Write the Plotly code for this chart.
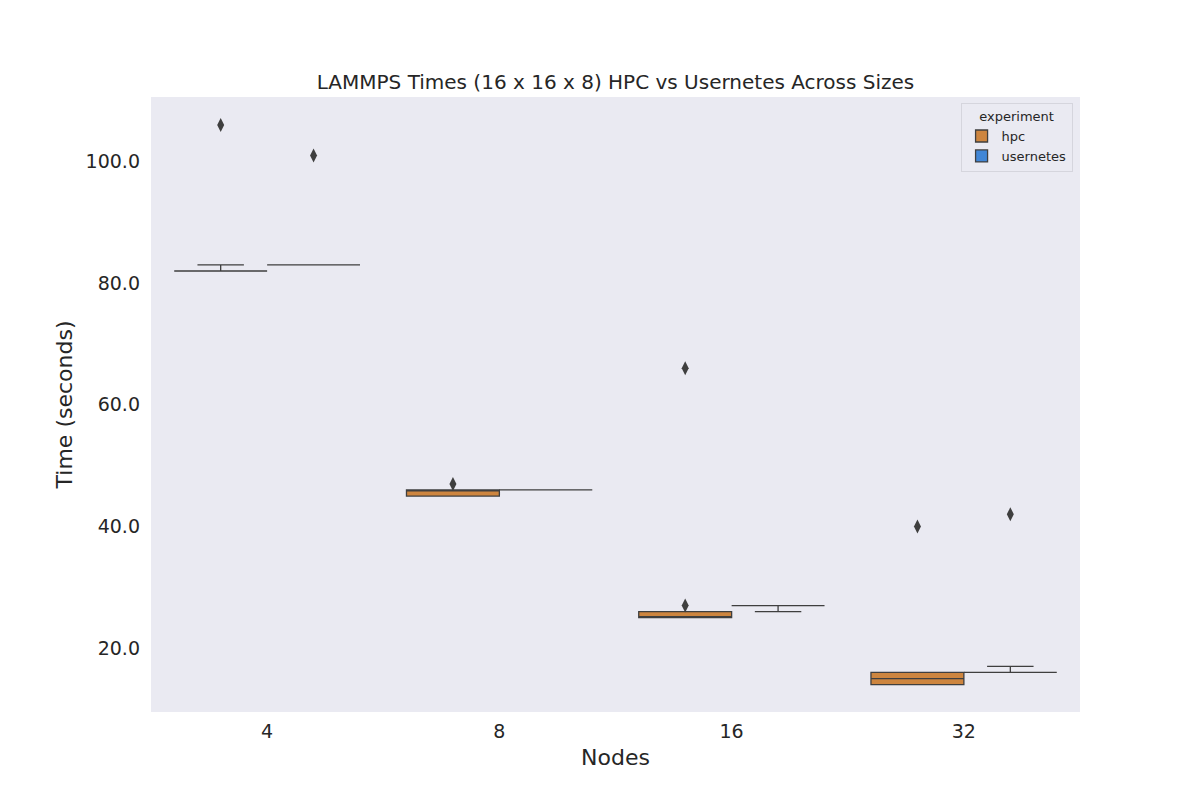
import plotly.graph_objects as go

nodes = ["4", "8", "16", "32"]

# hpc box statistics (seconds)
hpc_q1 = [82, 45, 25, 14]
hpc_median = [82, 46, 25, 15]
hpc_q3 = [82, 46, 26, 16]
hpc_lower = [82, 45, 25, 14]
hpc_upper = [83, 46, 26, 16]
hpc_out_x = ["4", "8", "16", "16", "32"]
hpc_out_y = [106, 47, 27, 66, 40]

# usernetes box statistics (seconds)
usn_q1 = [83, 46, 27, 16]
usn_median = [83, 46, 27, 16]
usn_q3 = [83, 46, 27, 16]
usn_lower = [83, 46, 26, 16]
usn_upper = [83, 46, 27, 17]
usn_out_x = ["4", "32"]
usn_out_y = [101, 42]

HPC_COLOR = "#CD853F"
USN_COLOR = "#4186D6"
EDGE = "#3F3F3F"
FONT = "DejaVu Sans"

fig = go.Figure()
fig.add_trace(go.Box(
    name="hpc", x=nodes, q1=hpc_q1, median=hpc_median, q3=hpc_q3,
    lowerfence=hpc_lower, upperfence=hpc_upper,
    fillcolor=HPC_COLOR, line=dict(color=EDGE, width=1.3),
    whiskerwidth=0.5, boxpoints=False, offsetgroup="hpc", legendgroup="hpc",
))
fig.add_trace(go.Box(
    name="usernetes", x=nodes, q1=usn_q1, median=usn_median, q3=usn_q3,
    lowerfence=usn_lower, upperfence=usn_upper,
    fillcolor=USN_COLOR, line=dict(color=EDGE, width=1.3),
    whiskerwidth=0.5, boxpoints=False, offsetgroup="usernetes", legendgroup="usernetes",
))
fig.add_trace(go.Scatter(
    x=hpc_out_x, y=hpc_out_y, mode="markers", showlegend=False,
    offsetgroup="hpc", legendgroup="hpc",
    marker=dict(symbol="diamond-tall", size=10, color=EDGE),
))
fig.add_trace(go.Scatter(
    x=usn_out_x, y=usn_out_y, mode="markers", showlegend=False,
    offsetgroup="usernetes", legendgroup="usernetes",
    marker=dict(symbol="diamond-tall", size=10, color=EDGE),
))

fig.update_layout(
    width=1200, height=800,
    paper_bgcolor="white", plot_bgcolor="#EAEAF2",
    font=dict(family=FONT, color="#262626"),
    margin=dict(l=143, r=128, t=89, b=96),
    boxmode="group", boxgap=0.2, boxgroupgap=0.0,
    scattermode="group", scattergap=0.2,
    title=dict(text="LAMMPS Times (16 x 16 x 8) HPC vs Usernetes Across Sizes",
               xref="paper", x=0.5, xanchor="center", y=1 - 74 / 800, yanchor="middle",
               font=dict(size=20, family=FONT, color="#262626")),
    legend=dict(title=dict(text="experiment", side="top center", font=dict(size=13)),
                font=dict(size=13), x=0.992, xanchor="right", y=0.99, yanchor="top",
                bgcolor="#EAEAF2", bordercolor="#D5D5DD", borderwidth=1,
                tracegroupgap=0),
    showlegend=True,
)
fig.update_xaxes(type="category", categoryorder="array", categoryarray=nodes,
                 title=dict(text="Nodes", font=dict(size=22), standoff=8),
                 tickfont=dict(size=19), ticklabelstandoff=6,
                 showgrid=False, zeroline=False, ticks="",
                 showline=False, range=[-0.5, 3.5])
fig.update_yaxes(range=[9.5, 110.6], tickvals=[20, 40, 60, 80, 100], tickformat=".1f",
                 title=dict(text="Time (seconds)", font=dict(size=22), standoff=6),
                 tickfont=dict(size=19), ticklabelstandoff=10,
                 showgrid=False, zeroline=False, ticks="",
                 showline=False)

fig.write_html("out.html")
